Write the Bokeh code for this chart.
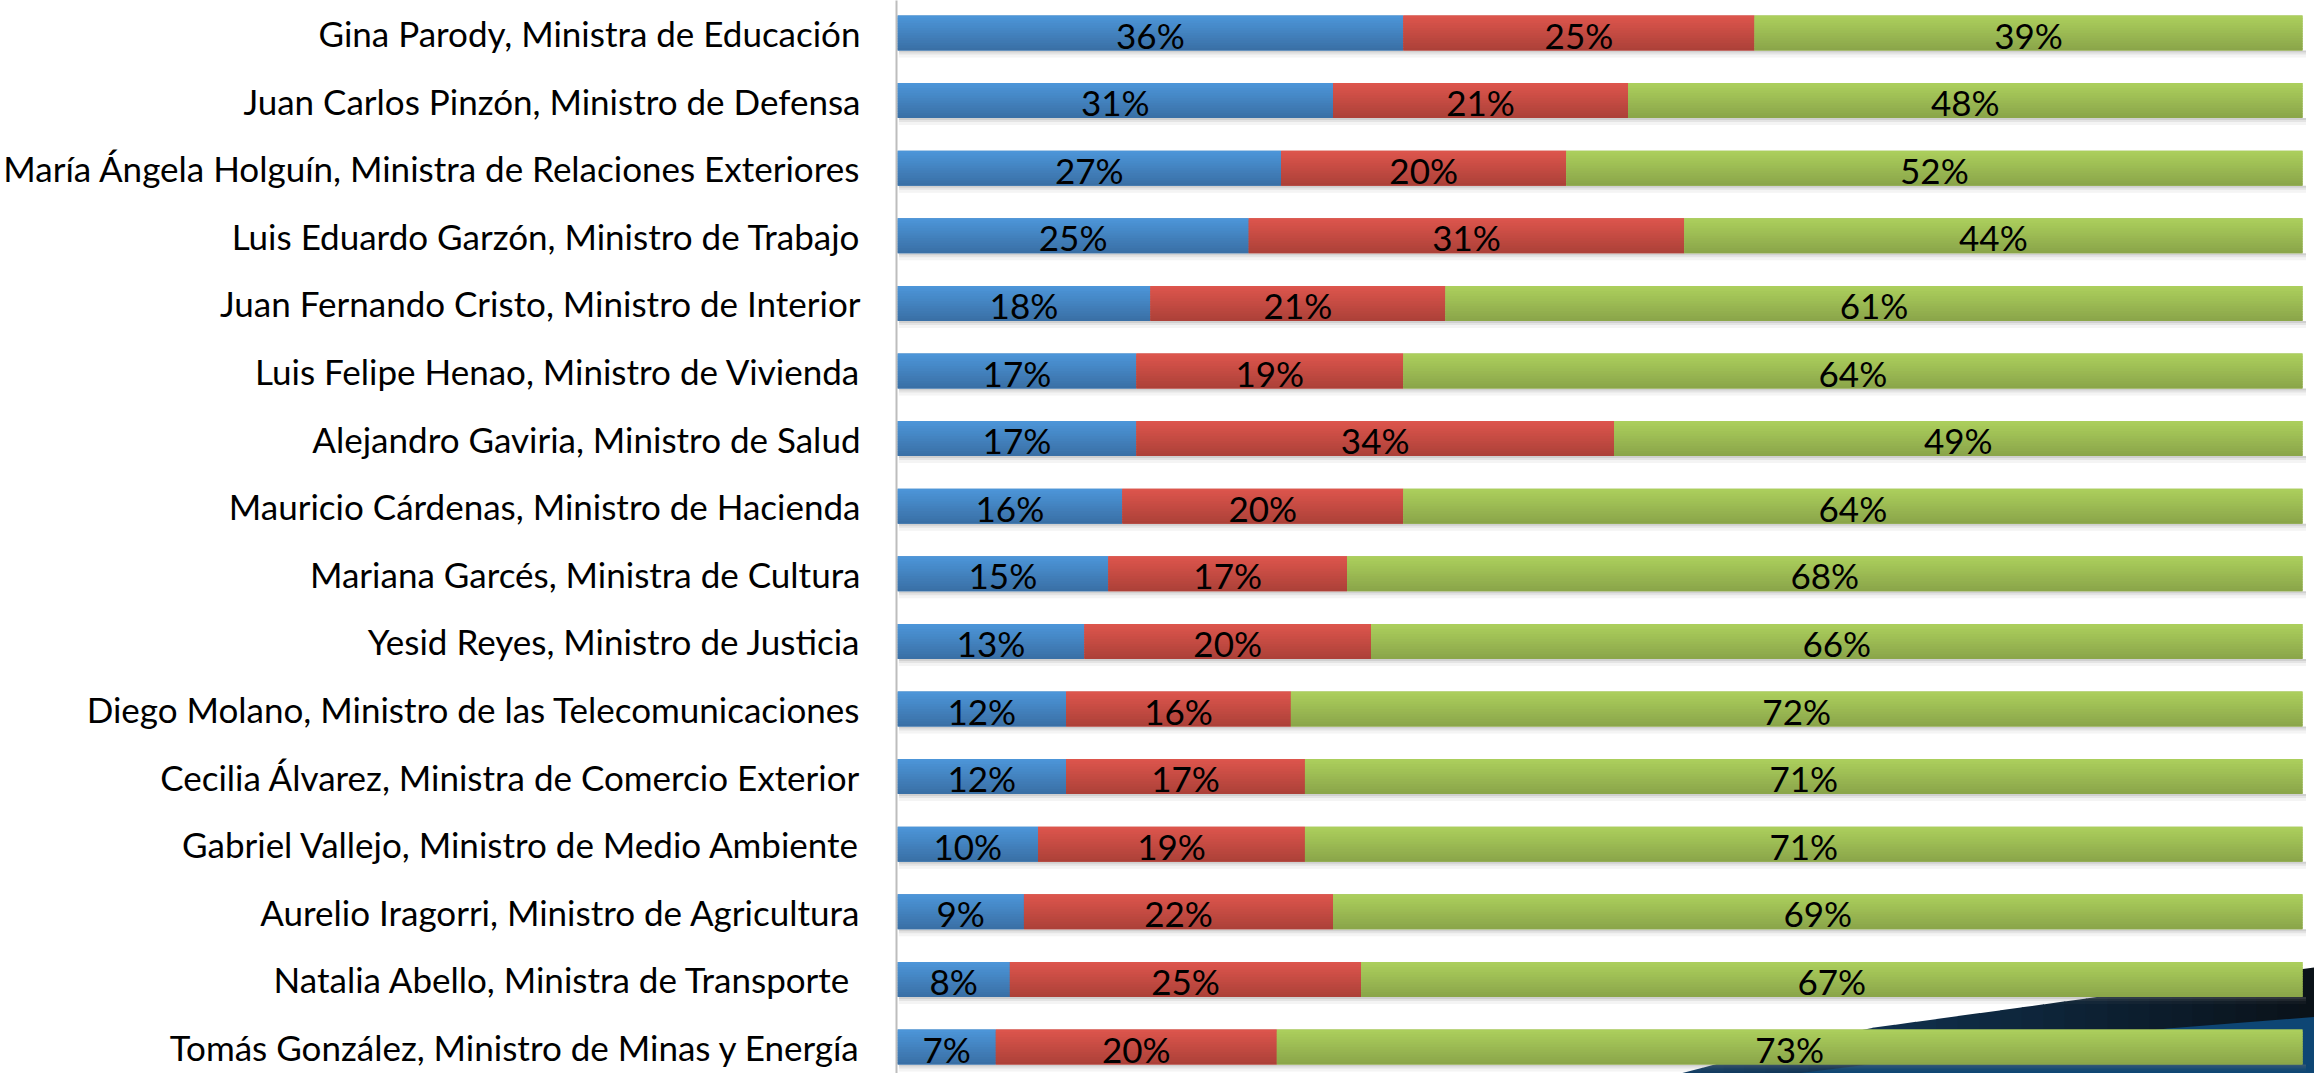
import numpy as np
from bokeh.plotting import figure
from bokeh.models import Range1d, FixedTicker, ColumnDataSource
from bokeh.core.properties import value
from bokeh.embed import file_html
from bokeh.resources import INLINE

# ---------------- data (top row first) ----------------
ministros = [
    "Gina Parody, Ministra de Educación",
    "Juan Carlos Pinzón, Ministro de Defensa",
    "María Ángela Holguín, Ministra de Relaciones Exteriores",
    "Luis Eduardo Garzón, Ministro de Trabajo",
    "Juan Fernando Cristo, Ministro de Interior",
    "Luis Felipe Henao, Ministro de Vivienda",
    "Alejandro Gaviria, Ministro de Salud",
    "Mauricio Cárdenas, Ministro de Hacienda",
    "Mariana Garcés, Ministra de Cultura",
    "Yesid Reyes, Ministro de Justicia",
    "Diego Molano, Ministro de las Telecomunicaciones",
    "Cecilia Álvarez, Ministra de Comercio Exterior",
    "Gabriel Vallejo, Ministro de Medio Ambiente",
    "Aurelio Iragorri, Ministro de Agricultura",
    "Natalia Abello, Ministra de Transporte ",
    "Tomás González, Ministro de Minas y Energía",
]
serie_azul = [36, 31, 27.3, 25, 18, 17, 17, 16, 15, 13.3, 12, 12, 10, 9, 8, 7]
serie_roja = [25, 21, 20.3, 31, 21, 19, 34, 20, 17, 20.4, 16, 17, 19, 22, 25, 20]
serie_verde = [39, 48, 52.4, 44, 61, 64, 49, 64, 68, 66.3, 72, 71, 71, 69, 67, 73]

# ---------------- layout / style ----------------
W, H = 2314, 1073
FRAME_LEFT = 896
PX_PER_PCT = 1405 / 100.0
ROW_PX = 67.6
FIRST_ROW_PX = 32.5
BAR_H = 35 / ROW_PX
FONT = "Lato"
FONT_SIZE = "35px"

x_start = -1.0 / PX_PER_PCT
x_end = x_start + (W - FRAME_LEFT) / PX_PER_PCT
y_top = -FIRST_ROW_PX / ROW_PX
y_bottom = y_top + H / ROW_PX


def sx2x(sx):
    return x_start + (np.asarray(sx, float) - FRAME_LEFT) / PX_PER_PCT


def sy2y(sy):
    return y_top + np.asarray(sy, float) / ROW_PX


def hex2rgb(h):
    h = h.lstrip("#")
    return np.array([int(h[i:i + 2], 16) for i in (0, 2, 4)], float)


def mix(c1, c2, t):
    c = hex2rgb(c1) * (1 - t) + hex2rgb(c2) * t
    return "#%02x%02x%02x" % tuple(int(round(v)) for v in c)


p = figure(
    width=W, height=H,
    x_range=Range1d(x_start, x_end),
    y_range=Range1d(y_bottom, y_top),
    output_backend="svg", toolbar_location=None,
    x_axis_location=None,
    min_border_left=FRAME_LEFT, min_border_right=0,
    min_border_top=0, min_border_bottom=0,
)
p.outline_line_color = None
p.grid.visible = False
p.background_fill_color = "white"
p.border_fill_color = "white"

# ---------------- background decoration (slide swoosh) ----------------
DARK_EDGE_SX = [1680, 1760, 1867, 2093, 2320]
DARK_EDGE_SY = [1073, 1052, 1028, 997, 966]
LIGHT_EDGE_SX = [1780, 1860, 2167, 2320]
LIGHT_EDGE_SY = [1075, 1065, 1028, 1016]
n_sl = 30
xs_b = np.linspace(DARK_EDGE_SX[0], DARK_EDGE_SX[-1], n_sl + 1)
ys_b = np.interp(xs_b, DARK_EDGE_SX, DARK_EDGE_SY)
dxs, dys, dcols = [], [], []
for k in range(n_sl):
    xa, xb = xs_b[k], xs_b[k + 1] + 0.8
    ya, yb = ys_b[k], np.interp(xb, DARK_EDGE_SX, DARK_EDGE_SY)
    dxs.append(list(sx2x([xa, xb, xb, xa])))
    dys.append(list(sy2y([ya, yb, 1085, 1085])))
    dcols.append(mix("#123d64", "#0a1219", k / (n_sl - 1)))
p.patches(dxs, dys, fill_color=dcols, line_color=None)
lx = list(LIGHT_EDGE_SX) + [LIGHT_EDGE_SX[-1], LIGHT_EDGE_SX[0]]
ly = list(LIGHT_EDGE_SY) + [1085, 1085]
p.patch(sx2x(lx), sy2y(ly), fill_color="#0e4674", line_color=None)

# ---------------- bars ----------------
rows = np.arange(len(ministros), dtype=float)
az = np.array(serie_azul, float)
ro = np.array(serie_roja, float)
ve = np.array(serie_verde, float)
lefts = [np.zeros_like(az), az, az + ro]
rights = [az, az + ro, az + ro + ve]
grads = [("#4c95d8", "#3a70a6"), ("#dc554c", "#ad4139"), ("#abce5c", "#8ba64a")]

# soft shadow under each bar
px = 1.0 / ROW_PX
for (o1, o2, a) in [(0, 2, 0.35), (2, 4, 0.2), (4, 7, 0.08)]:
    p.quad(left=lefts[0] + 0.1, right=rights[2] + 0.25,
           top=rows + BAR_H / 2 + o1 * px, bottom=rows + BAR_H / 2 + o2 * px,
           fill_color="#777777", fill_alpha=a, line_color=None)

N = 14
for l, r, (ct, cb) in zip(lefts, rights, grads):
    p.quad(left=l, right=r, top=rows - BAR_H / 2, bottom=rows + BAR_H / 2,
           fill_color=mix(ct, cb, 0.5), line_color=None)
    for k in range(N):
        t0 = rows - BAR_H / 2 + k * BAR_H / N
        t1 = np.minimum(t0 + 1.6 * BAR_H / N, rows + BAR_H / 2)
        p.quad(left=l, right=r, top=t0, bottom=t1,
               fill_color=mix(ct, cb, k / (N - 1)), line_color=None)

# ---------------- value labels ----------------
lab_x, lab_y, lab_t = [], [], []
for l, r, vals in zip(lefts, rights, [az, ro, ve]):
    for i in range(len(rows)):
        lab_x.append((l[i] + r[i]) / 2)
        lab_y.append(rows[i])
        lab_t.append("%d%%" % int(round(vals[i])))
src = ColumnDataSource(dict(x=lab_x, y=lab_y, t=lab_t))
p.text(x="x", y="y", text="t", source=src, text_align="center",
       text_baseline="middle", text_font=value(FONT), text_font_size=FONT_SIZE,
       text_color="#000000", y_offset=1.5)

# ---------------- axis ----------------
ax = p.yaxis[0]
ax.ticker = FixedTicker(ticks=list(range(len(ministros))), minor_ticks=[])
ax.major_label_overrides = {i: n for i, n in enumerate(ministros)}
ax.major_label_text_font = FONT
ax.major_label_text_font_size = FONT_SIZE
ax.major_label_text_color = "#000000"
ax.major_tick_line_color = None
ax.minor_tick_line_color = None
ax.major_tick_out = 0
ax.major_tick_in = 0
ax.major_label_standoff = 36
ax.axis_line_color = "#bdbdbd"
ax.axis_line_width = 2

open("out.html", "w").write(file_html(p, INLINE))
